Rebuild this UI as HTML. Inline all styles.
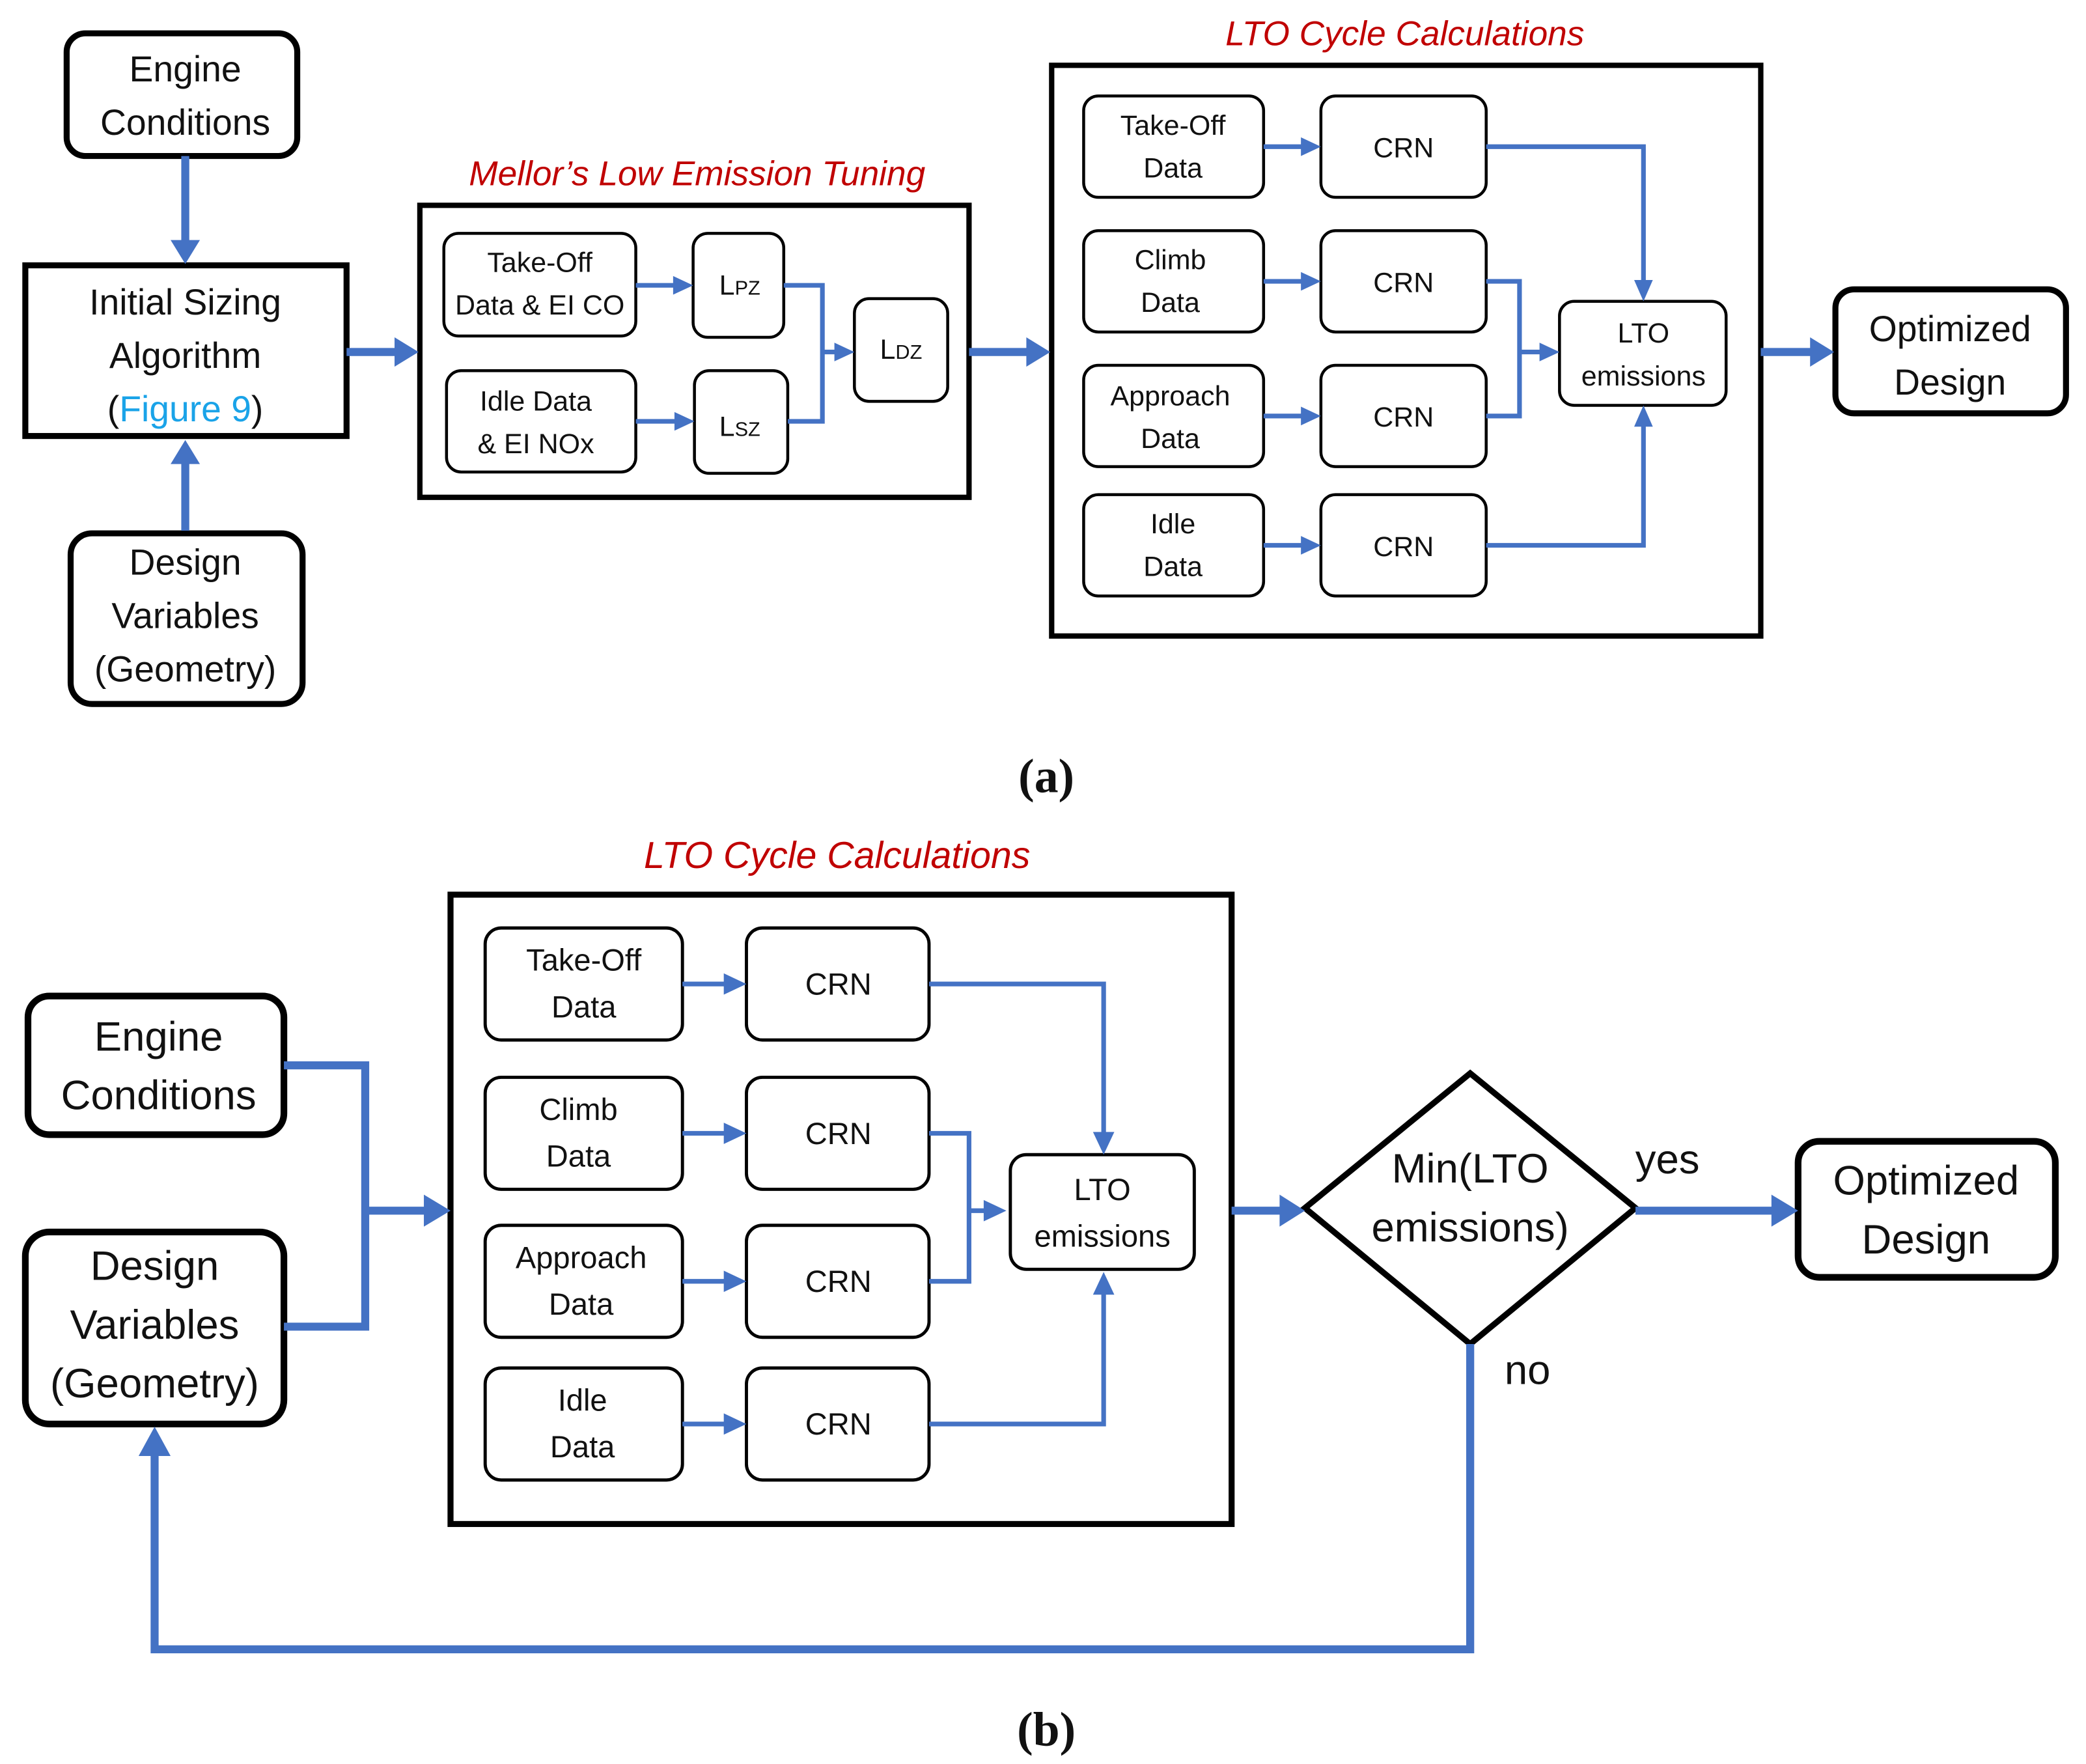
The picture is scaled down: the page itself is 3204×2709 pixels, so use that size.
<!DOCTYPE html>
<html><head><meta charset="utf-8"><style>
html,body{margin:0;padding:0;background:#fff;}
svg{display:block;}
text{font-family:"Liberation Sans",sans-serif;fill:#111;text-anchor:middle;}
.t{font-style:italic;fill:#c00000;}
</style></head><body>
<svg width="3204" height="2709" viewBox="0 0 1565 1323" preserveAspectRatio="none" xmlns="http://www.w3.org/2000/svg">
<g fill="none" stroke="#000">
<rect x="50" y="25" width="173" height="92" rx="14" stroke-width="4.5"/>
<rect x="19" y="199" width="241" height="128" stroke-width="4.5"/>
<rect x="53" y="400" width="174" height="128" rx="16" stroke-width="4.5"/>
<rect x="315" y="154" width="412" height="219" stroke-width="4"/>
<rect x="333" y="175" width="144" height="77" rx="11" stroke-width="2.2"/>
<rect x="520" y="175" width="68" height="78" rx="11" stroke-width="2.2"/>
<rect x="335" y="278" width="142" height="76" rx="11" stroke-width="2.2"/>
<rect x="521" y="278" width="70" height="77" rx="11" stroke-width="2.2"/>
<rect x="641" y="224" width="70" height="77" rx="11" stroke-width="2.2"/>
<rect x="789" y="49" width="532" height="428" stroke-width="4"/>
<rect x="813" y="72" width="135" height="76" rx="11" stroke-width="2.2"/>
<rect x="813" y="173" width="135" height="76" rx="11" stroke-width="2.2"/>
<rect x="813" y="274" width="135" height="76" rx="11" stroke-width="2.2"/>
<rect x="813" y="371" width="135" height="76" rx="11" stroke-width="2.2"/>
<rect x="991" y="72" width="124" height="76" rx="11" stroke-width="2.2"/>
<rect x="991" y="173" width="124" height="76" rx="11" stroke-width="2.2"/>
<rect x="991" y="274" width="124" height="76" rx="11" stroke-width="2.2"/>
<rect x="991" y="371" width="124" height="76" rx="11" stroke-width="2.2"/>
<rect x="1170" y="226" width="125" height="78" rx="11" stroke-width="2.2"/>
<rect x="1377" y="217" width="173" height="93" rx="14" stroke-width="4.5"/>
<rect x="338" y="671" width="586" height="472" stroke-width="4.5"/>
<rect x="364" y="696" width="148" height="84" rx="12" stroke-width="2.4"/>
<rect x="364" y="808" width="148" height="84" rx="12" stroke-width="2.4"/>
<rect x="364" y="919" width="148" height="84" rx="12" stroke-width="2.4"/>
<rect x="364" y="1026" width="148" height="84" rx="12" stroke-width="2.4"/>
<rect x="560" y="696" width="137" height="84" rx="12" stroke-width="2.4"/>
<rect x="560" y="808" width="137" height="84" rx="12" stroke-width="2.4"/>
<rect x="560" y="919" width="137" height="84" rx="12" stroke-width="2.4"/>
<rect x="560" y="1026" width="137" height="84" rx="12" stroke-width="2.4"/>
<rect x="758" y="866" width="138" height="86" rx="12" stroke-width="2.4"/>
<rect x="21" y="747" width="192" height="104" rx="16" stroke-width="5"/>
<rect x="19" y="924" width="194" height="144" rx="18" stroke-width="5"/>
<polygon points="1103,805 1227,906 1103,1008 979,906" stroke-width="4.5"/>
<rect x="1349" y="856" width="193" height="102" rx="16" stroke-width="5"/>
</g>
<g fill="none" stroke="#4472c4" stroke-linejoin="miter">
<g stroke-width="6">
<line x1="139" y1="117" x2="139" y2="184"/>
<line x1="139" y1="398" x2="139" y2="344"/>
<line x1="260" y1="264" x2="298" y2="264"/>
<line x1="727" y1="264" x2="772" y2="264"/>
<line x1="1321" y1="264" x2="1360" y2="264"/>
<polyline points="213,799 274,799 274,995 213,995"/>
<line x1="274" y1="908" x2="320" y2="908"/>
<line x1="924" y1="908" x2="962" y2="908"/>
<line x1="1227" y1="908" x2="1332" y2="908"/>
<polyline points="1103,1008 1103,1237 116,1237 116,1088"/>
</g>
<g stroke-width="3.5">
<line x1="477" y1="214" x2="508" y2="214"/>
<line x1="477" y1="316" x2="509" y2="316"/>
<polyline points="588,214 617,214 617,316 591,316"/>
<line x1="617" y1="264" x2="629" y2="264"/>
<line x1="948" y1="110" x2="979" y2="110"/>
<line x1="948" y1="211" x2="979" y2="211"/>
<line x1="948" y1="312" x2="979" y2="312"/>
<line x1="948" y1="409" x2="979" y2="409"/>
<polyline points="1115,110 1233,110 1233,213"/>
<polyline points="1115,211 1140,211 1140,312 1115,312"/>
<line x1="1140" y1="264" x2="1157" y2="264"/>
<polyline points="1115,409 1233,409 1233,318"/>
<line x1="512" y1="738" x2="546" y2="738"/>
<line x1="512" y1="850" x2="546" y2="850"/>
<line x1="512" y1="961" x2="546" y2="961"/>
<line x1="512" y1="1068" x2="546" y2="1068"/>
<polyline points="697,738 828,738 828,852"/>
<polyline points="697,850 727,850 727,961 697,961"/>
<line x1="727" y1="908" x2="741" y2="908"/>
<polyline points="697,1068 828,1068 828,968"/>
</g>
</g>
<g fill="#4472c4">
<polygon points="128,180 150,180 139,198"/>
<polygon points="128,348 150,348 139,330"/>
<polygon points="296,253 296,275 314,264"/>
<polygon points="770,253 770,275 788,264"/>
<polygon points="1358,253 1358,275 1376,264"/>
<polygon points="318,896 318,920 338,908"/>
<polygon points="960,896 960,920 979,908"/>
<polygon points="1329,896 1329,920 1349,908"/>
<polygon points="104,1092 128,1092 116,1070"/>
<polygon points="505,207 505,221 520,214"/>
<polygon points="506,309 506,323 521,316"/>
<polygon points="626,257 626,271 641,264"/>
<polygon points="976,103 976,117 991,110"/>
<polygon points="976,204 976,218 991,211"/>
<polygon points="976,305 976,319 991,312"/>
<polygon points="976,402 976,416 991,409"/>
<polygon points="1226,210 1240,210 1233,226"/>
<polygon points="1155,257 1155,271 1170,264"/>
<polygon points="1226,320 1240,320 1233,304"/>
<polygon points="543,730 543,746 560,738"/>
<polygon points="543,842 543,858 560,850"/>
<polygon points="543,953 543,969 560,961"/>
<polygon points="543,1060 543,1076 560,1068"/>
<polygon points="820,849 836,849 828,866"/>
<polygon points="738,900 738,916 755,908"/>
<polygon points="820,971 836,971 828,954"/>
</g>
<g font-size="27">
<text x="139" y="61">Engine</text>
<text x="139" y="101">Conditions</text>
<text x="139" y="236">Initial Sizing</text>
<text x="139" y="276">Algorithm</text>
<text x="139" y="316">(<tspan fill="#1aa3e8">Figure 9</tspan>)</text>
<text x="139" y="431">Design</text>
<text x="139" y="471">Variables</text>
<text x="139" y="511">(Geometry)</text>
<text x="1463" y="256">Optimized</text>
<text x="1463" y="296">Design</text>
</g>
<g font-size="21">
<text x="405" y="204">Take-Off</text>
<text x="405" y="236">Data &amp; EI CO</text>
<text x="402" y="308">Idle Data</text>
<text x="402" y="340">&amp; EI NOx</text>
<text x="555" y="221">L<tspan font-size="15">PZ</tspan></text>
<text x="555" y="327">L<tspan font-size="15">SZ</tspan></text>
<text x="676" y="269">L<tspan font-size="15">DZ</tspan></text>
<text x="880" y="101">Take-Off</text>
<text x="880" y="133">Data</text>
<text x="878" y="202">Climb</text>
<text x="878" y="234">Data</text>
<text x="878" y="304">Approach</text>
<text x="878" y="336">Data</text>
<text x="880" y="400">Idle</text>
<text x="880" y="432">Data</text>
<text x="1053" y="118">CRN</text>
<text x="1053" y="219">CRN</text>
<text x="1053" y="320">CRN</text>
<text x="1053" y="417">CRN</text>
<text x="1233" y="257">LTO</text>
<text x="1233" y="289">emissions</text>
</g>
<text class="t" x="523" y="139" font-size="26">Mellor’s Low Emission Tuning</text>
<text class="t" x="1054" y="34" font-size="26">LTO Cycle Calculations</text>
<text x="785" y="594" font-size="36" font-weight="bold" style="font-family:'Liberation Serif',serif">(a)</text>
<text class="t" x="628" y="651" font-size="28">LTO Cycle Calculations</text>
<g font-size="23">
<text x="438" y="728">Take-Off</text>
<text x="438" y="763">Data</text>
<text x="434" y="840">Climb</text>
<text x="434" y="875">Data</text>
<text x="436" y="951">Approach</text>
<text x="436" y="986">Data</text>
<text x="437" y="1058">Idle</text>
<text x="437" y="1093">Data</text>
<text x="629" y="746">CRN</text>
<text x="629" y="858">CRN</text>
<text x="629" y="969">CRN</text>
<text x="629" y="1076">CRN</text>
<text x="827" y="900">LTO</text>
<text x="827" y="935">emissions</text>
</g>
<g font-size="31">
<text x="119" y="788">Engine</text>
<text x="119" y="832">Conditions</text>
<text x="116" y="960">Design</text>
<text x="116" y="1004">Variables</text>
<text x="116" y="1048">(Geometry)</text>
<text x="1103" y="887">Min(LTO</text>
<text x="1103" y="931">emissions)</text>
<text x="1251" y="880">yes</text>
<text x="1146" y="1038">no</text>
<text x="1445" y="896">Optimized</text>
<text x="1445" y="940">Design</text>
</g>
<text x="785" y="1309" font-size="36" font-weight="bold" style="font-family:'Liberation Serif',serif">(b)</text>
</svg>
</body></html>
